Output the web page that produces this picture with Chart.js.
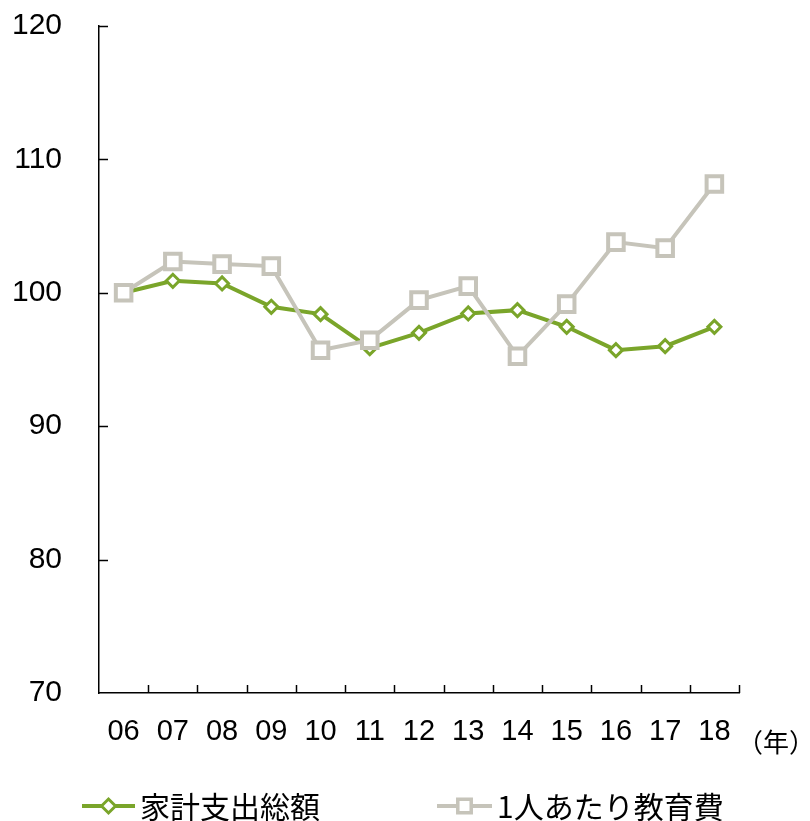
<!DOCTYPE html>
<html>
<head>
<meta charset="utf-8">
<script src="https://cdn.jsdelivr.net/npm/chart.js@4.4.1/dist/chart.umd.min.js"></script>
<style>
  html, body { margin: 0; padding: 0; background: #fff; }
  #wrap { width: 810px; height: 821px; position: relative; }
</style>
</head>
<body>
<div id="wrap"><canvas id="c" width="810" height="821"></canvas></div>
<script>
const categories = ['06','07','08','09','10','11','12','13','14','15','16','17','18'];
const householdTotal = [100, 100.9, 100.7, 98.95, 98.4, 95.85, 97.0, 98.45, 98.7, 97.45, 95.7, 96.0, 97.45];
const perChildEducation = [100, 102.35, 102.15, 102.0, 95.7, 96.45, 99.45, 100.5, 95.25, 99.15, 103.8, 103.35, 108.15];
const yTicks = [70, 80, 90, 100, 110, 120];
const seriesNames = ['家計支出総額', '1人あたり教育費'];
const xUnit = '（年）';

const GREEN = '#7AA52A';
const GRAY = '#C6C4BA';
const FONT = '"Liberation Sans", Arial, sans-serif';
const JFONT = '"Noto Sans CJK JP", "Liberation Sans", sans-serif';

const extras = {
  id: 'extras',
  afterDraw(chart) {
    const ctx = chart.ctx;
    const x = chart.scales.x, y = chart.scales.y;
    const area = chart.chartArea;
    ctx.save();
    ctx.strokeStyle = '#000';
    ctx.lineWidth = 1.5;
    yTicks.forEach(v => {
      if (v === y.min) return;
      const py = Math.round(y.getPixelForValue(v)) + 0.5;
      ctx.beginPath();
      ctx.moveTo(area.left, py);
      ctx.lineTo(area.left + 9, py);
      ctx.stroke();
    });
    for (let i = 1; i <= categories.length; i++) {
      let px;
      if (i === categories.length) px = area.right;
      else px = (x.getPixelForValue(i - 1) + x.getPixelForValue(i)) / 2;
      px = Math.round(px) + 0.5;
      ctx.beginPath();
      ctx.moveTo(px, area.bottom);
      ctx.lineTo(px, area.bottom - 8);
      ctx.stroke();
    }
    ctx.fillStyle = '#000';
    ctx.font = '26px ' + JFONT;
    ctx.textAlign = 'left';
    ctx.textBaseline = 'middle';
    ctx.fillText(xUnit, 737, 742);

    const items = [
      {name: seriesNames[0], color: GREEN, style: 'rectRot', x0: 82, x1: 135, tx: 140, r: 7, bw: 3},
      {name: seriesNames[1], color: GRAY, style: 'rect', x0: 437, x1: 492, tx: 497, r: 9.5, bw: 3.5}
    ];
    const ly = 806;
    items.forEach(it => {
      ctx.strokeStyle = it.color;
      ctx.lineWidth = 4;
      ctx.beginPath();
      ctx.moveTo(it.x0, ly);
      ctx.lineTo(it.x1, ly);
      ctx.stroke();
      const cx = (it.x0 + it.x1) / 2;
      ctx.fillStyle = '#fff';
      ctx.lineWidth = it.bw;
      ctx.beginPath();
      if (it.style === 'rectRot') {
        ctx.moveTo(cx - it.r, ly); ctx.lineTo(cx, ly - it.r);
        ctx.lineTo(cx + it.r, ly); ctx.lineTo(cx, ly + it.r); ctx.closePath();
      } else {
        const s = it.r * Math.SQRT1_2;
        ctx.rect(cx - s, ly - s, 2 * s, 2 * s);
      }
      ctx.fill(); ctx.stroke();
      ctx.fillStyle = '#000';
      ctx.font = '30px ' + JFONT;
      ctx.textAlign = 'left';
      ctx.textBaseline = 'middle';
      ctx.fillText(it.name, it.tx, ly + 1);
    });
    ctx.restore();
  }
};

new Chart(document.getElementById('c'), {
  type: 'line',
  data: {
    labels: categories,
    datasets: [
      {
        label: seriesNames[0], data: householdTotal,
        borderColor: GREEN, borderWidth: 4, backgroundColor: '#fff',
        pointStyle: 'rectRot', pointRadius: 6.5, pointBorderWidth: 3,
        pointBackgroundColor: '#fff', pointBorderColor: GREEN,
        tension: 0, order: 2
      },
      {
        label: seriesNames[1], data: perChildEducation,
        borderColor: GRAY, borderWidth: 4, backgroundColor: '#fff',
        pointStyle: 'rect', pointRadius: 11, pointBorderWidth: 4,
        pointBackgroundColor: '#fff', pointBorderColor: GRAY,
        tension: 0, order: 1
      }
    ]
  },
  options: {
    responsive: false,
    animation: false,
    devicePixelRatio: 1,
    layout: { padding: { left: 0, right: 71, top: 26, bottom: 58 } },
    plugins: { legend: { display: false }, tooltip: { enabled: false } },
    scales: {
      x: {
        offset: true,
        grid: { drawOnChartArea: false, drawTicks: false },
        border: { display: true, color: '#000', width: 1.5 },
        ticks: { color: '#000', font: { family: FONT, size: 29 }, padding: 22, maxRotation: 0, autoSkip: false },
        afterFit(s) { s.height = 70; s.paddingLeft = 0; s.paddingRight = 0; }
      },
      y: {
        min: 70, max: 120,
        afterBuildTicks(s) { s.ticks = yTicks.map(v => ({value: v})); },
        grid: { drawOnChartArea: false, drawTicks: false },
        border: { display: true, color: '#000', width: 1.5 },
        ticks: { color: '#000', font: { family: FONT, size: 30 }, padding: 37 },
        afterFit(s) { s.width = 99; s.paddingTop = 0; s.paddingBottom = 0; }
      }
    }
  },
  plugins: [extras]
});
</script>
</body>
</html>
